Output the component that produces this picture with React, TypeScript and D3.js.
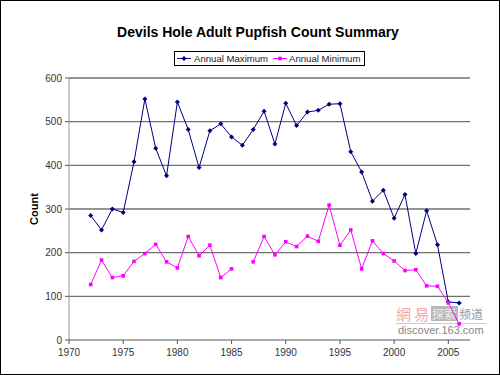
import React from "react";
import * as d3 from "d3";

const width = 500;
const height = 375;
const margin = { top: 78, right: 30, bottom: 35, left: 69 };

// years and counts
const years = [
  1972, 1973, 1974, 1975, 1976, 1977, 1978, 1979, 1980, 1981, 1982, 1983, 1984,
  1985, 1986, 1987, 1988, 1989, 1990, 1991, 1992, 1993, 1994, 1995, 1996, 1997,
  1998, 1999, 2000, 2001, 2002, 2003, 2004, 2005, 2006,
];
const annualMax = [
  285, 252, 300, 292, 408, 552, 439, 376, 545, 482, 395, 479, 495, 465, 446,
  482, 524, 449, 542, 491, 522, 526, 540, 541, 431, 385, 318, 343, 279, 333,
  198, 296, 218, 87, 85,
];
// 1986 has no minimum
const annualMin = [
  127, 183, 143, 147, 180, 198, 219, 179, 165, 237, 193, 217, 143, 163, null,
  179, 237, 195, 225, 214, 238, 226, 309, 217, 252, 163, 227, 198, 181, 159,
  161, 124, 123, 85, 37,
];
const yTicks = [0, 100, 200, 300, 400, 500, 600];
const xTicks = [1970, 1975, 1980, 1985, 1990, 1995, 2000, 2005];

const font = "'Liberation Sans', Arial, sans-serif";

export default function App() {
  const x = d3
    .scaleLinear()
    .domain([1970, 2007])
    .range([margin.left, width - margin.right]);
  const y = d3
    .scaleLinear()
    .domain([0, 600])
    .range([height - margin.bottom, margin.top]);

  const maxPts = years.map((yr, i) => ({ yr, v: annualMax[i] }));
  const minPts = years.map((yr, i) => ({ yr, v: annualMin[i] }));

  const line = d3
    .line<{ yr: number; v: number | null }>()
    .defined((d) => d.v != null)
    .x((d) => x(d.yr))
    .y((d) => y(d.v as number));

  const diamond = d3.symbol(d3.symbolDiamond2, 16)();
  const square = d3.symbol(d3.symbolSquare, 13)();

  const x0 = margin.left;
  const x1 = width - margin.right;
  const y0 = height - margin.bottom;

  return (
    <svg
      width={width}
      height={height}
      style={{ position: "absolute", left: 0, top: 0, background: "#fff" }}
      fontFamily={font}
    >
      <rect x={0.5} y={0.5} width={width - 1} height={height - 1} fill="#fff" stroke="#000" />

      <text x={258} y={37} textAnchor="middle" fontSize={14} fontWeight="bold">
        Devils Hole Adult Pupfish Count Summary
      </text>

      {/* legend */}
      <g>
        <rect x={174.5} y={51.5} width={190} height={14} fill="#fff" stroke="#000" />
        <line x1={177} x2={191} y1={58.5} y2={58.5} stroke="#000080" />
        <path d={diamond} transform="translate(184,58.5)" fill="#000080" />
        <text x={194} y={62} fontSize={9.6} fill="#222">Annual Maximum</text>
        <line x1={273} x2={287} y1={58.5} y2={58.5} stroke="#ff00ff" />
        <path d={square} transform="translate(280,58.5)" fill="#ff00ff" />
        <text x={289} y={62} fontSize={9.6} fill="#222">Annual Minimum</text>
      </g>

      {/* gridlines */}
      {yTicks.map((t) =>
        t > 0 ? (
          <line key={t} x1={x0} x2={x1} y1={y(t)} y2={y(t)} stroke="#707070" strokeWidth={1.3} />
        ) : null
      )}

      {/* axes */}
      <line x1={x0} x2={x0} y1={margin.top} y2={y0} stroke="#9a9a9a" />
      {yTicks.map((t) => (
        <g key={t}>
          <line x1={x0 - 4} x2={x0} y1={y(t)} y2={y(t)} stroke="#555" />
          <text x={x0 - 7} y={y(t) + 3.5} textAnchor="end" fontSize={10} fill="#333">
            {t}
          </text>
        </g>
      ))}
      <line x1={x0} x2={x1} y1={y0} y2={y0} stroke="#555" />
      {xTicks.map((t) => (
        <g key={t}>
          <line x1={x(t)} x2={x(t)} y1={y0} y2={y0 + 4} stroke="#555" />
          <text x={x(t)} y={y0 + 16} textAnchor="middle" fontSize={10} fill="#333">
            {t}
          </text>
        </g>
      ))}
      <text
        transform={`translate(38,${(margin.top + y0) / 2}) rotate(-90)`}
        textAnchor="middle"
        fontSize={11}
        fontWeight="bold"
      >
        Count
      </text>

      {/* watermark */}
      <g>
        <text x={396} y={320} fontSize={15} fill="#f0a8a8" fontFamily="'Noto Sans CJK TC', sans-serif">
          網 易
        </text>
        <rect x={431} y={306} width={27} height={15} fill="#b8b8b8" />
        <text x={432} y={319} fontSize={12} fill="#eee" fontFamily="'Noto Sans CJK SC', sans-serif">
          探索
        </text>
        <text x={459} y={319} fontSize={12} fill="#999" fontFamily="'Noto Sans CJK SC', sans-serif">
          频道
        </text>
        <line x1={396} x2={486} y1={323.5} y2={323.5} stroke="#ccc" />
        <text x={398} y={334} fontSize={11} fill="#888">
          discover.163.com
        </text>
      </g>

      {/* series */}
      <path d={line(maxPts) || ""} fill="none" stroke="#000080" strokeWidth={1} />
      {maxPts.map((d) => (
        <path key={d.yr} d={diamond} transform={`translate(${x(d.yr)},${y(d.v)})`} fill="#000080" />
      ))}
      <path d={line(minPts) || ""} fill="none" stroke="#ff00ff" strokeWidth={1} />
      {minPts
        .filter((d) => d.v != null)
        .map((d) => (
          <path key={d.yr} d={square} transform={`translate(${x(d.yr)},${y(d.v as number)})`} fill="#ff00ff" />
        ))}
    </svg>
  );
}
